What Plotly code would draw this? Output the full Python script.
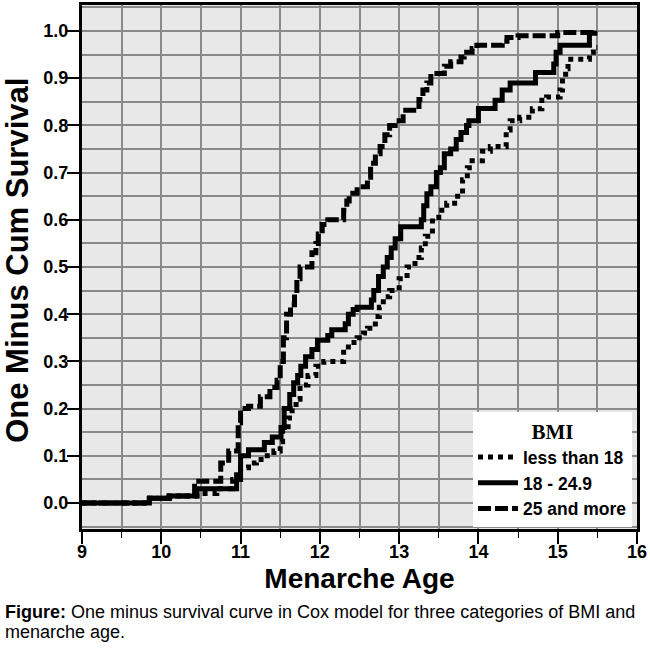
import plotly.graph_objects as go

# edad de menarquia (x) y 1 - supervivencia acumulada (y)
age_lt18 = [9.0, 9.85, 10.1, 10.45, 10.7, 10.9, 11.0, 11.1, 11.2, 11.3, 11.42, 11.5, 11.53, 11.6,
            11.65, 11.7, 11.75, 11.85, 11.95, 12.05, 12.3, 12.36, 12.47, 12.55, 12.6, 12.7, 12.75,
            12.8, 12.88, 13.0, 13.1, 13.2, 13.28, 13.33, 13.42, 13.5, 13.6, 13.7, 13.8, 13.86,
            13.92, 14.05, 14.15, 14.35, 14.4, 14.52, 14.68, 14.8, 14.86, 15.03, 15.06, 15.1,
            15.13, 15.4, 15.45, 15.5]
surv_lt18 = [0.0, 0.01, 0.015, 0.02, 0.03, 0.05, 0.075, 0.085, 0.092, 0.1, 0.11, 0.13, 0.155, 0.18,
             0.2, 0.22, 0.25, 0.27, 0.29, 0.3, 0.325, 0.34, 0.35, 0.36, 0.37, 0.395, 0.415,
             0.437, 0.45, 0.475, 0.5, 0.52, 0.54, 0.565, 0.605, 0.62, 0.635, 0.65, 0.685, 0.71,
             0.725, 0.745, 0.755, 0.79, 0.81, 0.817, 0.835, 0.853, 0.86, 0.875, 0.9, 0.92,
             0.94, 0.955, 0.965, 0.965]

age_18_25 = [9.0, 9.85, 10.1, 10.45, 10.95, 11.0, 11.1, 11.3, 11.4, 11.51, 11.55, 11.62, 11.67,
             11.72, 11.76, 11.82, 11.9, 11.97, 12.1, 12.15, 12.32, 12.36, 12.42, 12.47, 12.65,
             12.68, 12.74, 12.8, 12.85, 12.9, 12.95, 13.02, 13.28, 13.31, 13.35, 13.4, 13.47,
             13.52, 13.57, 13.65, 13.72, 13.78, 13.85, 13.88, 14.0, 14.21, 14.3, 14.4, 14.72,
             14.95, 14.98, 15.03, 15.4, 15.5]
surv_18_25 = [0.0, 0.01, 0.015, 0.03, 0.06, 0.1, 0.113, 0.128, 0.14, 0.16, 0.2, 0.23, 0.255,
              0.27, 0.29, 0.31, 0.325, 0.345, 0.355, 0.367, 0.38, 0.4, 0.41, 0.415, 0.43,
              0.45, 0.48, 0.5, 0.52, 0.54, 0.56, 0.585, 0.6, 0.63, 0.655, 0.67, 0.7,
              0.71, 0.74, 0.75, 0.77, 0.785, 0.8, 0.81, 0.836, 0.853, 0.875, 0.89, 0.912,
              0.93, 0.955, 0.97, 0.995, 0.995]

age_25 = [9.0, 9.85, 10.1, 10.42, 10.75, 10.85, 10.97, 11.0, 11.1, 11.25, 11.37, 11.46, 11.5,
          11.54, 11.58, 11.63, 11.68, 11.71, 11.75, 11.9, 11.95, 11.98, 12.03, 12.1, 12.3,
          12.34, 12.37, 12.47, 12.6, 12.64, 12.7, 12.76, 12.82, 12.88, 12.95, 13.05, 13.25,
          13.3, 13.35, 13.4, 13.57, 13.65, 13.78, 13.82, 13.92, 13.98, 14.3, 14.36, 14.5,
          15.0, 15.5]
surv_25 = [0.0, 0.01, 0.015, 0.046, 0.085, 0.11, 0.17, 0.2, 0.205, 0.225, 0.245, 0.26, 0.3,
           0.35, 0.4, 0.42, 0.445, 0.475, 0.5, 0.53, 0.55, 0.57, 0.59, 0.6, 0.62,
           0.64, 0.656, 0.67, 0.69, 0.72, 0.74, 0.755, 0.78, 0.8, 0.81, 0.832, 0.855,
           0.875, 0.89, 0.91, 0.925, 0.935, 0.945, 0.955, 0.963, 0.97, 0.978, 0.986, 0.99,
           0.997, 0.997]

names = ['less than 18', '18 - 24.9', '25 and more']
dashes = ['dot', 'solid', '13px,4px']

sans = 'Liberation Sans, Arial, sans-serif'

fig = go.Figure()

for xs, ys, nm, ds in zip([age_lt18, age_18_25, age_25], [surv_lt18, surv_18_25, surv_25], names, dashes):
    fig.add_trace(go.Scatter(x=xs, y=ys, name=nm, mode='lines', line_shape='hv',
                             line=dict(color='black', width=5, dash=ds)))

fig.update_layout(
    width=650, height=655,
    margin=dict(l=82, r=13, t=5, b=126),
    paper_bgcolor='white', plot_bgcolor='#e8e8e8',
    showlegend=True,
    legend=dict(x=0.991, y=0.004, xanchor='right', yanchor='bottom',
                bgcolor='white', borderwidth=0,
                title=dict(text='BMI', side='top center',
                           font=dict(family='Liberation Serif, Times New Roman, serif', size=21, color='black')),
                font=dict(family=sans, size=17.5, color='black', weight='bold'),
                itemwidth=40, tracegroupgap=0),
)

fig.update_xaxes(range=[9, 16], dtick=1, tick0=9, automargin=False,
                 showline=True, linecolor='black', linewidth=3, mirror=True,
                 ticks='outside', ticklen=12, tickwidth=2, tickcolor='black',
                 showgrid=True, gridcolor='#8a8a8a', gridwidth=2,
                 minor=dict(dtick=0.5, ticks='outside', ticklen=6, tickwidth=1, tickcolor='black',
                            showgrid=True, gridcolor='#8a8a8a', gridwidth=2),
                 zeroline=False, ticklabeloverflow='allow', ticklabelstandoff=-8,
                 tickfont=dict(family=sans, size=18, color='black', weight='bold'),
                 title=dict(text='Menarche Age', standoff=8,
                            font=dict(family=sans, size=28, color='black', weight='bold')))

fig.update_yaxes(range=[-0.055, 1.055], dtick=0.1, tick0=0, tickformat='.1f', automargin=False,
                 showline=True, linecolor='black', linewidth=3, mirror=True,
                 ticks='outside', ticklen=12, tickwidth=2, tickcolor='black',
                 showgrid=True, gridcolor='#8a8a8a', gridwidth=2,
                 minor=dict(dtick=0.05, ticks='', showgrid=True, gridcolor='#8a8a8a', gridwidth=2),
                 zeroline=False, ticklabelstandoff=-5,
                 tickfont=dict(family=sans, size=18, color='black', weight='bold'))

# titulo del eje y como anotacion para poder pegarlo al borde izquierdo
fig.add_annotation(text='<b>One Minus Cum Survival</b>', textangle=-90,
                   xref='paper', yref='paper', x=-0.116, y=0.513, xanchor='center', yanchor='middle',
                   showarrow=False, font=dict(family=sans, size=31, color='black'))

# pie de figura
cap_font = dict(family=sans, size=18, color='black')
fig.add_annotation(text='<b>Figure:</b> One minus survival curve in Cox model for three categories of BMI and',
                   xref='paper', yref='paper', x=-0.142, y=-0.136, xanchor='left', yanchor='top',
                   showarrow=False, font=cap_font)
fig.add_annotation(text='menarche age.',
                   xref='paper', yref='paper', x=-0.142, y=-0.174, xanchor='left', yanchor='top',
                   showarrow=False, font=cap_font)

# sin margen del body para que la figura empiece en (0, 0)
fig.write_html('out.html', config={'displayModeBar': False},
               post_script="document.body.style.margin='0';")
